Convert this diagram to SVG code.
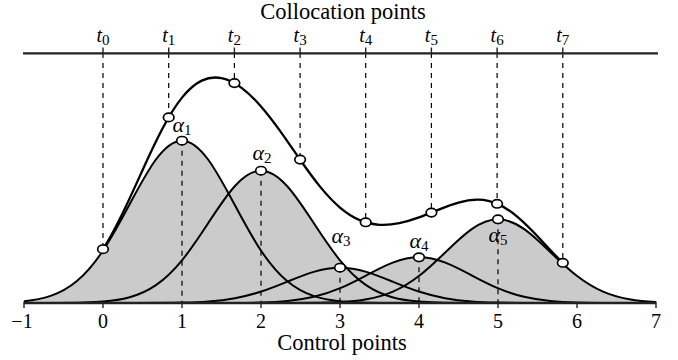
<svg xmlns="http://www.w3.org/2000/svg" width="678" height="360" viewBox="0 0 678 360">
<style>
.txt{font-family:"Liberation Serif","Times New Roman",serif;fill:#000}
.lbl{font-size:22.5px}
.num{font-size:20px}
.mi{font-size:20px;font-style:italic}
.mg{font-size:22px;font-style:italic}
.sub{font-size:15px;font-style:normal}
.gfill{fill:#cbcbcb;stroke:none}
.gline{fill:none;stroke:#000;stroke-width:2}
.sum{fill:none;stroke:#000;stroke-width:2.3}
.dash{stroke:#000;stroke-width:1.2;stroke-dasharray:5 5;fill:none}
.axis{stroke:#222;stroke-width:2.3;fill:none}
.tick{stroke:#222;stroke-width:1.4}
.pt{fill:#fff;stroke:#000;stroke-width:1.7}
</style>
<defs>
<path id="gauss" vector-effect="non-scaling-stroke" d="M-12 0L-4 -.000335C-3.6667 -.000782 -3.3333 0 -3 -.011109C-2.8333 -.016664 -2.6667 -.02563 -2.5 -.043937C-2.3333 -.062244 -2.1667 -.090223 -2 -.135335C-1.8333 -.180447 -1.6667 -.243489 -1.5 -.324652C-1.3333 -.405815 -1.1667 -.505442 -1 -.606531C-.8333 -.70762 -.6667 -.808956 -.5 -.882497C-.3333 -.956038 -.1667 -1 0 -1C.1667 -1 .3333 -.956038 .5 -.882497C.6667 -.808956 .8333 -.70762 1 -.606531C1.1667 -.505442 1.3333 -.405815 1.5 -.324652C1.6667 -.243489 1.8333 -.180447 2 -.135335C2.1667 -.090223 2.3333 -.062244 2.5 -.043937C2.6667 -.02563 2.8333 -.016664 3 -.011109C3.3333 0 3.6667 -.000782 4 -.000335L12 0"/>
<clipPath id="plotclip"><rect x="24" y="0" width="632" height="360"/></clipPath>
</defs>

<g id="basis-fill" clip-path="url(#plotclip)">
<use href="#gauss" class="gfill" transform="translate(182 303) scale(52.535 162.3)"/>
<use href="#gauss" class="gfill" transform="translate(261 303) scale(52.535 132.3)"/>
<use href="#gauss" class="gfill" transform="translate(340 303) scale(52.535 35.3)"/>
<use href="#gauss" class="gfill" transform="translate(419 303) scale(52.535 45.7)"/>
<use href="#gauss" class="gfill" transform="translate(498 303) scale(52.535 83.7)"/>
</g>

<g id="connectors">
<g id="collocation-dashes" class="dash">
<line x1="103" y1="53" x2="103" y2="249.2"/>
<line x1="168.7" y1="53" x2="168.7" y2="117.4"/>
<line x1="234.4" y1="53" x2="234.4" y2="83.1"/>
<line x1="300.1" y1="53" x2="300.1" y2="159.6"/>
<line x1="365.7" y1="53" x2="365.7" y2="222.3"/>
<line x1="431.4" y1="53" x2="431.4" y2="212.6"/>
<line x1="497.1" y1="53" x2="497.1" y2="203.8"/>
<line x1="562.8" y1="53" x2="562.8" y2="262.8"/>
</g>
<g id="control-dashes" class="dash">
<line x1="182" y1="140.7" x2="182" y2="303"/>
<line x1="261" y1="170.7" x2="261" y2="303"/>
<line x1="340" y1="267.7" x2="340" y2="303"/>
<line x1="419" y1="257.3" x2="419" y2="303"/>
<line x1="498" y1="219.3" x2="498" y2="303"/>
</g>
</g>

<g id="basis-lines" clip-path="url(#plotclip)">
<use href="#gauss" class="gline" transform="translate(182 303) scale(52.535 162.3)"/>
<use href="#gauss" class="gline" transform="translate(261 303) scale(52.535 132.3)"/>
<use href="#gauss" class="gline" transform="translate(340 303) scale(52.535 35.3)"/>
<use href="#gauss" class="gline" transform="translate(419 303) scale(52.535 45.7)"/>
<use href="#gauss" class="gline" transform="translate(498 303) scale(52.535 83.7)"/>
</g>

<g id="sum-curve">
<path class="sum" d="M103 249.16C109.58 238.75 116.17 226.43 122.75 212.92C129.33 199.4 135.92 184.72 142.5 170.24C149.08 155.76 155.67 141.54 162.25 129.04C168.83 116.55 175.42 105.8 182 97.6C188.58 89.41 195.17 83.76 201.75 80.61C208.33 77.47 214.92 76.8 221.5 78.13C228.08 79.45 234.67 82.76 241.25 87.62C247.83 92.47 254.42 98.87 261 106.41C267.58 113.94 274.17 122.63 280.75 131.85C287.33 141.07 293.92 150.81 300.5 160.26C307.08 169.7 313.67 178.82 320.25 186.89C326.83 194.96 333.42 201.97 340 207.56C346.58 213.15 353.17 217.33 359.75 220.15C366.33 222.96 372.92 224.43 379.5 224.84C386.08 225.24 392.67 224.59 399.25 223.24C405.83 221.89 412.42 219.84 419 217.44C425.58 215.04 432.17 212.29 438.75 209.64C445.33 206.99 451.92 204.44 458.5 202.58C465.08 200.71 471.67 199.56 478.25 199.68C484.83 199.81 491.42 201.23 498 204.16C504.58 207.09 511.17 211.52 517.75 217.08C524.33 222.65 530.92 229.32 537.5 236.29C544.08 243.26 550.67 250.51 557.25 257.25C559.09 259.13 560.94 260.98 562.78 262.78"/>
</g>

<g id="collocation-axis">
<line class="axis" x1="23" y1="53.3" x2="658" y2="53.3"/>
<g class="tick">
<line x1="103" y1="47.5" x2="103" y2="53"/>
<line x1="168.7" y1="47.5" x2="168.7" y2="53"/>
<line x1="234.4" y1="47.5" x2="234.4" y2="53"/>
<line x1="300.1" y1="47.5" x2="300.1" y2="53"/>
<line x1="365.7" y1="47.5" x2="365.7" y2="53"/>
<line x1="431.4" y1="47.5" x2="431.4" y2="53"/>
<line x1="497.1" y1="47.5" x2="497.1" y2="53"/>
<line x1="562.8" y1="47.5" x2="562.8" y2="53"/>
</g>
<g class="txt mi" text-anchor="middle">
<text x="103" y="42">t<tspan class="sub" dy="2.5">0</tspan></text>
<text x="168.7" y="42">t<tspan class="sub" dy="2.5">1</tspan></text>
<text x="234.4" y="42">t<tspan class="sub" dy="2.5">2</tspan></text>
<text x="300.1" y="42">t<tspan class="sub" dy="2.5">3</tspan></text>
<text x="365.7" y="42">t<tspan class="sub" dy="2.5">4</tspan></text>
<text x="431.4" y="42">t<tspan class="sub" dy="2.5">5</tspan></text>
<text x="497.1" y="42">t<tspan class="sub" dy="2.5">6</tspan></text>
<text x="562.8" y="42">t<tspan class="sub" dy="2.5">7</tspan></text>
</g>
<text class="txt lbl" x="343" y="19" text-anchor="middle">Collocation points</text>
</g>

<g id="control-axis">
<line class="axis" x1="24" y1="303" x2="656" y2="303"/>
<g class="tick">
<line x1="24" y1="301.5" x2="24" y2="308"/>
<line x1="103" y1="303" x2="103" y2="308"/>
<line x1="182" y1="303" x2="182" y2="308"/>
<line x1="261" y1="303" x2="261" y2="308"/>
<line x1="340" y1="303" x2="340" y2="308"/>
<line x1="419" y1="303" x2="419" y2="308"/>
<line x1="498" y1="303" x2="498" y2="308"/>
<line x1="577" y1="303" x2="577" y2="308"/>
<line x1="656" y1="301.5" x2="656" y2="308"/>
</g>
<g class="txt num" text-anchor="middle">
<text x="22" y="328">−1</text>
<text x="103" y="328">0</text>
<text x="182" y="328">1</text>
<text x="261" y="328">2</text>
<text x="340" y="328">3</text>
<text x="419" y="328">4</text>
<text x="498" y="328">5</text>
<text x="577" y="328">6</text>
<text x="656" y="328">7</text>
</g>
<text class="txt lbl" x="342" y="350" text-anchor="middle">Control points</text>
</g>

<g id="collocation-points" class="pt">
<ellipse cx="103" cy="249.2" rx="5.3" ry="4.2"/>
<ellipse cx="168.7" cy="117.4" rx="5.3" ry="4.2"/>
<ellipse cx="234.4" cy="83.1" rx="5.3" ry="4.2"/>
<ellipse cx="300.1" cy="159.6" rx="5.3" ry="4.2"/>
<ellipse cx="365.7" cy="222.3" rx="5.3" ry="4.2"/>
<ellipse cx="431.4" cy="212.6" rx="5.3" ry="4.2"/>
<ellipse cx="497.1" cy="203.8" rx="5.3" ry="4.2"/>
<ellipse cx="562.8" cy="262.8" rx="5.3" ry="4.2"/>
</g>

<g id="control-points" class="pt">
<ellipse cx="182" cy="140.7" rx="5.3" ry="4.2"/>
<ellipse cx="261" cy="170.7" rx="5.3" ry="4.2"/>
<ellipse cx="340" cy="267.7" rx="5.3" ry="4.2"/>
<ellipse cx="419" cy="257.3" rx="5.3" ry="4.2"/>
<ellipse cx="498" cy="219.3" rx="5.3" ry="4.2"/>
</g>

<g id="alpha-labels" class="txt mg" text-anchor="middle">
<text id="alpha1" x="182" y="132">α<tspan class="sub" dy="3">1</tspan></text>
<text id="alpha2" x="262" y="160">α<tspan class="sub" dy="3">2</tspan></text>
<text id="alpha3" x="341" y="243">α<tspan class="sub" dy="3">3</tspan></text>
<text id="alpha4" x="419" y="248">α<tspan class="sub" dy="3">4</tspan></text>
<text id="alpha5" x="498" y="242">α<tspan class="sub" dy="3">5</tspan></text>
</g>
</svg>
